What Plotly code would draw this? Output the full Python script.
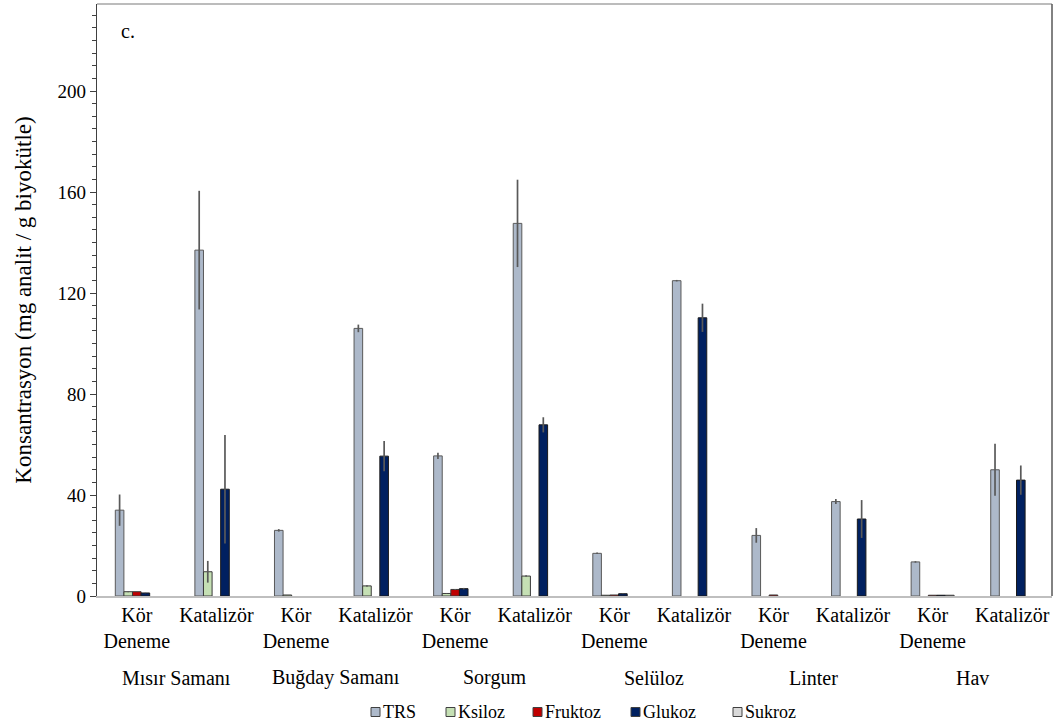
import plotly.graph_objects as go

# Six feedstocks, each tested without (Kör Deneme) and with catalyst (Katalizör)
materials = ["Mısır Samanı", "Buğday Samanı", "Sorgum", "Selüloz", "Linter", "Hav"]
conditions = ["Kör<br>Deneme", "Katalizör"]

# Concentrations, mg analyte / g biomass, ordered material by material (Kör, Katalizör)
trs = [34.0, 137.0, 26.0, 106.0, 55.5, 147.6, 16.9, 124.9, 24.0, 37.4, 13.5, 50.0]
trs_err = [6.2, 23.5, 0.5, 1.5, 1.2, 17.3, 0.3, 0.3, 2.9, 1.0, 0.3, 10.3]

ksiloz = [1.7, 9.6, 0.4, 4.0, 1.0, 7.9, 0.3, 0.0, 0.0, 0.0, 0.0, 0.0]
ksiloz_err = [0.2, 4.3, 0.0, 0.3, 0.1, 0.3, 0.0, 0.0, 0.0, 0.0, 0.0, 0.0]

fruktoz = [1.7, 0.0, 0.0, 0.0, 2.6, 0.0, 0.4, 0.0, 0.4, 0.0, 0.3, 0.0]
fruktoz_err = [0.1, 0.0, 0.0, 0.0, 0.2, 0.0, 0.0, 0.0, 0.0, 0.0, 0.0, 0.0]

glukoz = [1.2, 42.3, 0.0, 55.4, 2.9, 67.8, 0.9, 110.2, 0.0, 30.5, 0.3, 45.9]
glukoz_err = [0.1, 21.5, 0.0, 6.0, 0.3, 3.0, 0.1, 5.6, 0.0, 7.5, 0.0, 5.8]

sukroz = [0.0, 0.0, 0.0, 0.0, 0.0, 0.0, 0.0, 0.0, 0.0, 0.0, 0.3, 0.0]
sukroz_err = [0.0] * 12

series = [
    ("TRS", trs, trs_err, "#ADB9CA", "#595959"),
    ("Ksiloz", ksiloz, ksiloz_err, "#C5E0B4", "#3A3A3A"),
    ("Fruktoz", fruktoz, fruktoz_err, "#C00000", "#3A3A3A"),
    ("Glukoz", glukoz, glukoz_err, "#002060", "#1A1A1A"),
    ("Sukroz", sukroz, sukroz_err, "#D9D9D9", "#3A3A3A"),
]

FONT = "Liberation Serif"
W, H = 1059, 727
ML, MR, MT, MB = 97, 7, 4, 131
PW, PH = W - ML - MR, H - MT - MB

positions = list(range(len(materials) * len(conditions)))
ticktext = [conditions[i % 2] for i in positions]

fig = go.Figure()
for name, vals, errs, fill, edge in series:
    # no outline on empty bars so nothing is drawn along the baseline
    edge_w = [1 if v > 0 else 0 for v in vals]
    fig.add_trace(go.Bar(
        name=name,
        x=positions,
        y=vals,
        showlegend=False,
        marker=dict(color=fill, line=dict(color=edge, width=edge_w)),
        error_y=dict(type="data", array=errs, visible=True,
                     color="#595959", thickness=1.7, width=0),
    ))

# Feedstock names centred under each pair of bars
for i, m in enumerate(materials):
    fig.add_annotation(
        x=2 * i + 0.5, y=-0.1385, xref="x", yref="paper",
        text=m, showarrow=False, xanchor="center", yanchor="middle",
        font=dict(family=FONT, size=20, color="#000000"),
    )

# Panel label
fig.add_annotation(
    x=0.032, y=0.955, xref="paper", yref="paper", text="c.",
    showarrow=False, xanchor="center", yanchor="middle",
    font=dict(family=FONT, size=20, color="#000000"),
)

# Top and right frame of the plot area
fig.add_shape(type="line", xref="paper", yref="paper", x0=0, x1=1, y0=1, y1=1,
              line=dict(color="#A6A6A6", width=1.5))
fig.add_shape(type="line", xref="paper", yref="paper", x0=1, x1=1, y0=0, y1=1,
              line=dict(color="#595959", width=1.5))

# Legend row under the chart: small outlined swatch followed by the series name
def px_x(px):
    return (px - ML) / PW

def px_y(py):
    return (H - MB - py) / PH

legend_left = [371, 446, 533, 631, 733]
legend_mid, sw = 712, 9
for (name, _, _, fill, _), left in zip(series, legend_left):
    fig.add_shape(
        type="rect", xref="paper", yref="paper",
        x0=px_x(left), x1=px_x(left + sw),
        y0=px_y(legend_mid + sw / 2), y1=px_y(legend_mid - sw / 2),
        fillcolor=fill, line=dict(color="#404040", width=1),
    )
    fig.add_annotation(
        x=px_x(left + sw + 1), y=px_y(legend_mid), xref="paper", yref="paper",
        text=name, showarrow=False, xanchor="left", yanchor="middle",
        font=dict(family=FONT, size=18, color="#000000"),
    )

fig.update_layout(
    width=W, height=H,
    margin=dict(l=ML, r=MR, t=MT, b=MB),
    paper_bgcolor="white", plot_bgcolor="white",
    barmode="group", bargap=0.46, bargroupgap=0,
    font=dict(family=FONT, size=19, color="#000000"),
    showlegend=False,
    xaxis=dict(
        range=[-0.5, len(positions) - 0.5],
        tickmode="array", tickvals=positions, ticktext=ticktext,
        ticks="", showgrid=False, zeroline=False,
        showline=True, linecolor="#BFBFBF", linewidth=2,
        tickfont=dict(family=FONT, size=20, color="#000000"),
    ),
    yaxis=dict(
        range=[0, 234.5], tick0=0, dtick=40,
        ticks="outside", ticklen=6, tickwidth=1, tickcolor="#404040",
        minor=dict(dtick=5, ticks="outside", ticklen=4, tickwidth=1,
                   tickcolor="#404040", showgrid=False),
        showgrid=False, zeroline=False,
        showline=True, linecolor="#404040", linewidth=1.3,
        tickfont=dict(family=FONT, size=19, color="#000000"),
        title=dict(text="Konsantrasyon (mg analit / g biyokütle)",
                   font=dict(family=FONT, size=23, color="#000000"), standoff=19),
    ),
)

fig.write_html("out.html")
